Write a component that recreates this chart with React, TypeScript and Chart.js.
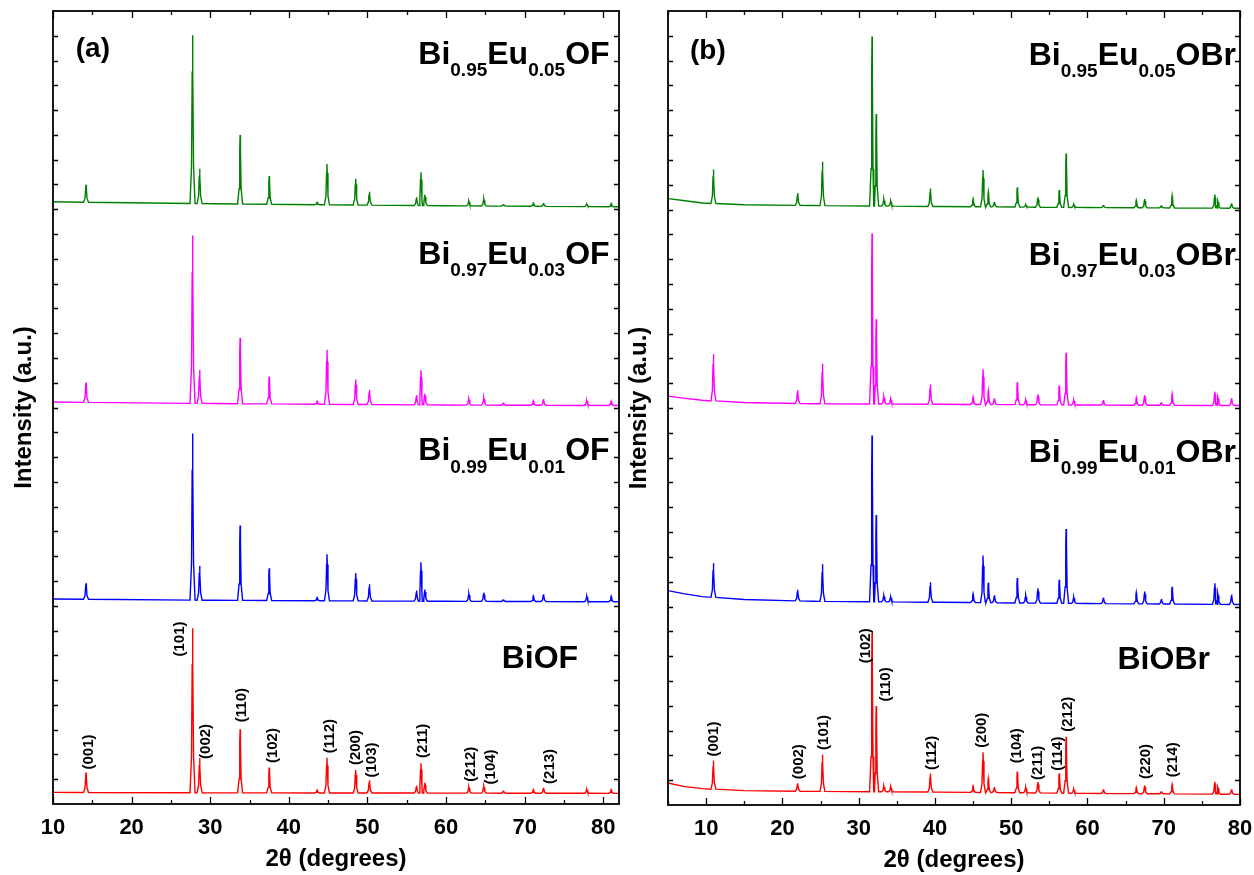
import React, { useEffect, useRef } from 'react';
import { Chart, registerables } from 'chart.js';

Chart.register(...registerables);

const FONT = '"Liberation Sans", Arial, Helvetica, sans-serif';

// ---------------- Panel (a): BiOF series ----------------
const ofTheta = [14.2, 27.75, 28.65, 33.8, 37.5, 43.6, 44.85, 48.5, 50.25, 56.25, 56.8, 57.3, 62.9, 64.8, 67.3, 71.1, 72.4, 77.9, 81.0];
const ofBgTheta = [10, 30.5, 60, 82];
const biofBg = [0.47, 0.45, 0.44, 0.43];
const biofPeaks = [0.8, 6.64, 1.4, 2.57, 1.02, 0.12, 1.42, 0.93, 0.52, 0.3, 1.2, 0.42, 0.25, 0.28, 0.1, 0.14, 0.22, 0.16, 0.15];
const eu01ofBg = [8.27, 8.22, 8.18, 8.16];
const eu01ofPeaks = [0.65, 6.72, 1.38, 3.02, 1.3, 0.13, 1.88, 1.12, 0.67, 0.43, 1.57, 0.47, 0.31, 0.35, 0.08, 0.22, 0.3, 0.22, 0.22];
const eu03ofBg = [16.22, 16.16, 16.1, 16.08];
const eu03ofPeaks = [0.8, 6.77, 1.35, 2.65, 1.1, 0.12, 2.2, 1.0, 0.6, 0.4, 1.4, 0.45, 0.25, 0.3, 0.1, 0.18, 0.25, 0.2, 0.18];
const eu05ofBg = [24.3, 24.22, 24.14, 24.1];
const eu05ofPeaks = [0.7, 6.79, 1.41, 2.79, 1.14, 0.1, 1.64, 1.06, 0.54, 0.33, 1.34, 0.44, 0.2, 0.29, 0.07, 0.13, 0.13, 0.1, 0.13];

const ofHkl = ['(001)', '(101)', '(002)', '(110)', '(102)', '(112)', '(200)', '(103)', '(211)', '(212)', '(104)', '(213)'];
const ofHklTheta = [14.5, 26.2, 29.4, 34.0, 38.0, 45.2, 48.5, 50.55, 57.1, 63.2, 65.7, 73.2];
const ofHklY = [1.39, 5.95, 1.82, 3.3, 1.65, 2.05, 1.57, 1.07, 1.86, 0.9, 0.79, 0.81];

const ofSamples = ['BiOF', 'Bi_{0.99}Eu_{0.01}OF', 'Bi_{0.97}Eu_{0.03}OF', 'Bi_{0.95}Eu_{0.05}OF'];
const ofSampleX = [76.8, 80.8, 80.8, 80.8];
const ofSampleY = [5.48, 13.87, 21.81, 29.88];
const ofXTicks = [10, 20, 30, 40, 50, 60, 70, 80];

// ---------------- Panel (b): BiOBr series ----------------
const obrTheta = [10.95, 22.0, 25.25, 31.75, 32.3, 33.3, 34.2, 39.4, 45.0, 46.3, 47.0, 47.8, 50.8, 51.9, 53.5, 56.3, 57.2, 58.2, 62.1, 66.4, 67.5, 69.7, 71.1, 76.7, 77.1, 78.9];
const obrBgTheta = [5, 7, 9.5, 15, 24, 40.5, 60, 80];
const biobrBg = [0.89, 0.75, 0.66, 0.58, 0.55, 0.52, 0.47, 0.43];
const biobrPeaks = [1.15, 0.32, 1.48, 6.4, 3.45, 0.23, 0.2, 0.75, 0.25, 1.62, 0.55, 0.22, 0.85, 0.22, 0.44, 0.8, 2.27, 0.17, 0.17, 0.25, 0.33, 0.1, 0.38, 0.5, 0.3, 0.2];
const eu01obrBg = [8.64, 8.52, 8.4, 8.28, 8.21, 8.17, 8.12, 8.08];
const eu01obrPeaks = [1.37, 0.45, 1.5, 6.7, 3.5, 0.25, 0.2, 0.8, 0.35, 1.9, 0.8, 0.3, 1.0, 0.3, 0.6, 0.95, 3.0, 0.25, 0.25, 0.45, 0.5, 0.2, 0.7, 0.85, 0.45, 0.4];
const eu03obrBg = [16.48, 16.4, 16.31, 16.22, 16.17, 16.15, 16.12, 16.1];
const eu03obrPeaks = [1.88, 0.54, 1.61, 6.87, 3.42, 0.3, 0.2, 0.8, 0.3, 1.42, 0.55, 0.25, 0.9, 0.2, 0.42, 0.78, 2.1, 0.2, 0.2, 0.3, 0.4, 0.12, 0.45, 0.55, 0.35, 0.3];
const eu05obrBg = [24.44, 24.36, 24.26, 24.19, 24.16, 24.12, 24.08, 24.05];
const eu05obrPeaks = [1.37, 0.5, 1.77, 6.83, 3.71, 0.28, 0.2, 0.72, 0.31, 1.48, 0.58, 0.2, 0.8, 0.1, 0.4, 0.7, 2.17, 0.12, 0.1, 0.3, 0.35, 0.1, 0.5, 0.55, 0.3, 0.2];

const obrHkl = ['(001)', '(002)', '(101)', '(102)', '(110)', '(112)', '(200)', '(104)', '(211)', '(114)', '(212)', '(220)', '(214)'];
const obrHklTheta = [11.0, 22.2, 25.4, 30.9, 33.6, 39.6, 46.2, 50.8, 53.5, 56.1, 57.4, 67.6, 71.2];
const obrHklY = [1.95, 1.04, 2.22, 5.71, 4.17, 1.41, 2.31, 1.68, 1.01, 1.38, 2.95, 1.05, 1.12];

const obrSamples = ['BiOBr', 'Bi_{0.99}Eu_{0.01}OBr', 'Bi_{0.97}Eu_{0.03}OBr', 'Bi_{0.95}Eu_{0.05}OBr'];
const obrSampleX = [76.06, 79.47, 79.47, 79.47];
const obrSampleY = [5.48, 13.84, 21.77, 29.84];
const obrXTicks = [10, 20, 30, 40, 50, 60, 70, 80];

const traceColors = ['#ff0000', '#0000ff', '#ff00ff', '#008000'];

// ---------------- helpers ----------------
type Pt = { x: number; y: number };

function baseAt(bx: number[], by: number[], x: number): number {
  if (x <= bx[0]) return by[0];
  for (let i = 1; i < bx.length; i++) {
    if (x <= bx[i]) {
      const t = (x - bx[i - 1]) / (bx[i] - bx[i - 1]);
      return by[i - 1] + t * (by[i] - by[i - 1]);
    }
  }
  return by[by.length - 1];
}

// peak profile shape (style): offsets in degrees and fraction of peak height
const shapeDx = [-0.32, -0.13, -0.045, 0, 0.045, 0.13, 0.32];
const shapeFr = [0, 0.22, 0.78, 1, 0.78, 0.22, 0];

function buildTrace(bx: number[], by: number[], theta: number[], heights: number[]): Pt[] {
  const pts: Pt[] = bx.map((x, i) => ({ x, y: by[i] }));
  theta.forEach((p, i) => {
    const h = heights[i];
    const b = baseAt(bx, by, p);
    shapeDx.forEach((dx, k) => pts.push({ x: p + dx, y: b + h * shapeFr[k] }));
  });
  pts.sort((a, b) => a.x - b.x);
  return pts;
}

type PanelDef = {
  letter: string;
  xMin: number;
  xMax: number;
  padding: { left: number; right: number; top: number; bottom: number };
  series: Pt[][];
  hkl: string[];
  hklTheta: number[];
  hklY: number[];
  samples: string[];
  sampleX: number[];
  sampleY: number[];
  letterX: number;
  letterY: number;
  xTicks: number[];
};

const panelA: PanelDef = {
  letter: '(a)',
  xMin: 10,
  xMax: 82,
  padding: { left: 53, right: 21, top: 11, bottom: 71 },
  series: [
    buildTrace(ofBgTheta, biofBg, ofTheta, biofPeaks),
    buildTrace(ofBgTheta, eu01ofBg, ofTheta, eu01ofPeaks),
    buildTrace(ofBgTheta, eu03ofBg, ofTheta, eu03ofPeaks),
    buildTrace(ofBgTheta, eu05ofBg, ofTheta, eu05ofPeaks),
  ],
  hkl: ofHkl,
  hklTheta: ofHklTheta,
  hklY: ofHklY,
  samples: ofSamples,
  sampleX: ofSampleX,
  sampleY: ofSampleY,
  letterX: 12.9,
  letterY: 30.16,
  xTicks: ofXTicks,
};

const panelB: PanelDef = {
  letter: '(b)',
  xMin: 5,
  xMax: 80,
  padding: { left: 53, right: 14, top: 11, bottom: 70 },
  series: [
    buildTrace(obrBgTheta, biobrBg, obrTheta, biobrPeaks),
    buildTrace(obrBgTheta, eu01obrBg, obrTheta, eu01obrPeaks),
    buildTrace(obrBgTheta, eu03obrBg, obrTheta, eu03obrPeaks),
    buildTrace(obrBgTheta, eu05obrBg, obrTheta, eu05obrPeaks),
  ],
  hkl: obrHkl,
  hklTheta: obrHklTheta,
  hklY: obrHklY,
  samples: obrSamples,
  sampleX: obrSampleX,
  sampleY: obrSampleY,
  letterX: 7.88,
  letterY: 30.06,
  xTicks: obrXTicks,
};

function parseLabel(s: string): { t: string; sub: boolean }[] {
  const parts: { t: string; sub: boolean }[] = [];
  const re = /_\{([^}]*)\}/g;
  let last = 0;
  let m: RegExpExecArray | null;
  while ((m = re.exec(s))) {
    if (m.index > last) parts.push({ t: s.slice(last, m.index), sub: false });
    parts.push({ t: m[1], sub: true });
    last = m.index + m[0].length;
  }
  if (last < s.length) parts.push({ t: s.slice(last), sub: false });
  return parts;
}

function makeDecor(p: PanelDef) {
  return {
    id: 'xrdDecor',
    afterDatasetsDraw(chart: any) {
      const ctx: CanvasRenderingContext2D = chart.ctx;
      const ca = chart.chartArea;
      const xs = chart.scales.x;
      const ys = chart.scales.y;
      ctx.save();
      ctx.fillStyle = '#000';
      ctx.strokeStyle = '#000';

      // inward ticks
      ctx.lineWidth = 1.3;
      ctx.beginPath();
      for (let v = p.xMin; v <= p.xMax; v += 5) {
        const px = Math.round(xs.getPixelForValue(v)) + 0.5;
        const len = v % 10 === 0 ? 7 : 4;
        ctx.moveTo(px, ca.bottom);
        ctx.lineTo(px, ca.bottom - len);
        ctx.moveTo(px, ca.top);
        ctx.lineTo(px, ca.top + len);
      }
      for (let v = 1; v < 32; v++) {
        const py = Math.round(ys.getPixelForValue(v)) + 0.5;
        ctx.moveTo(ca.left, py);
        ctx.lineTo(ca.left + 5, py);
        ctx.moveTo(ca.right, py);
        ctx.lineTo(ca.right - 5, py);
      }
      ctx.stroke();

      // frame
      ctx.lineWidth = 1.8;
      ctx.strokeRect(ca.left, ca.top, ca.right - ca.left, ca.bottom - ca.top);

      // tick labels
      ctx.font = `bold 22px ${FONT}`;
      ctx.textAlign = 'center';
      ctx.textBaseline = 'alphabetic';
      p.xTicks.forEach((v) => {
        ctx.fillText(String(v), xs.getPixelForValue(v), ca.bottom + 30);
      });

      // axis titles
      ctx.font = `bold 24px ${FONT}`;
      ctx.fillText('2θ (degrees)', (ca.left + ca.right) / 2, ca.bottom + 62);
      ctx.save();
      ctx.translate(ca.left - 29, (ca.top + ca.bottom) / 2);
      ctx.rotate(-Math.PI / 2);
      ctx.textBaseline = 'middle';
      ctx.fillText('Intensity (a.u.)', 0, 0);
      ctx.restore();

      // panel letter
      ctx.font = `bold 28px ${FONT}`;
      ctx.textAlign = 'left';
      ctx.fillText(p.letter, xs.getPixelForValue(p.letterX), ys.getPixelForValue(p.letterY));

      // sample names with subscripts (right aligned)
      const mainFont = `bold 32px ${FONT}`;
      const subFont = `bold 19px ${FONT}`;
      p.samples.forEach((s, i) => {
        const parts = parseLabel(s);
        let total = 0;
        parts.forEach((pt) => {
          ctx.font = pt.sub ? subFont : mainFont;
          total += ctx.measureText(pt.t).width;
        });
        let x = xs.getPixelForValue(p.sampleX[i]) - total;
        const yb = ys.getPixelForValue(p.sampleY[i]);
        parts.forEach((pt) => {
          ctx.font = pt.sub ? subFont : mainFont;
          ctx.fillText(pt.t, x, pt.sub ? yb + 12.5 : yb);
          x += ctx.measureText(pt.t).width;
        });
      });

      // hkl labels (rotated)
      ctx.font = `bold 15px ${FONT}`;
      ctx.textAlign = 'left';
      ctx.textBaseline = 'middle';
      p.hkl.forEach((lab, i) => {
        ctx.save();
        ctx.translate(xs.getPixelForValue(p.hklTheta[i]), ys.getPixelForValue(p.hklY[i]));
        ctx.rotate(-Math.PI / 2);
        ctx.fillText(lab, 0, 0);
        ctx.restore();
      });

      ctx.restore();
    },
  };
}

function XrdPanel({ panel, left, width }: { panel: PanelDef; left: number; width: number }) {
  const ref = useRef<HTMLCanvasElement>(null);
  useEffect(() => {
    const canvas = ref.current;
    if (!canvas) return;
    const chart = new Chart(canvas, {
      type: 'line',
      data: {
        datasets: panel.series.map((d, i) => ({
          data: d,
          borderColor: traceColors[i],
          borderWidth: 1.4,
          pointRadius: 0,
          fill: false,
          tension: 0,
        })),
      },
      options: {
        responsive: false,
        animation: false,
        events: [],
        layout: { padding: panel.padding },
        plugins: { legend: { display: false }, tooltip: { enabled: false } },
        scales: {
          x: { type: 'linear', min: panel.xMin, max: panel.xMax, display: false },
          y: { type: 'linear', min: 0, max: 32, display: false },
        },
      },
      plugins: [makeDecor(panel)],
    } as any);
    return () => chart.destroy();
  }, [panel]);
  return (
    <canvas
      ref={ref}
      width={width}
      height={875}
      style={{ position: 'absolute', left, top: 0, width, height: 875 }}
    />
  );
}

export default function App() {
  return (
    <div style={{ position: 'absolute', left: 0, top: 0, width: 1254, height: 875, background: '#fff', overflow: 'hidden' }}>
      <XrdPanel panel={panelA} left={0} width={640} />
      <XrdPanel panel={panelB} left={615} width={639} />
    </div>
  );
}
